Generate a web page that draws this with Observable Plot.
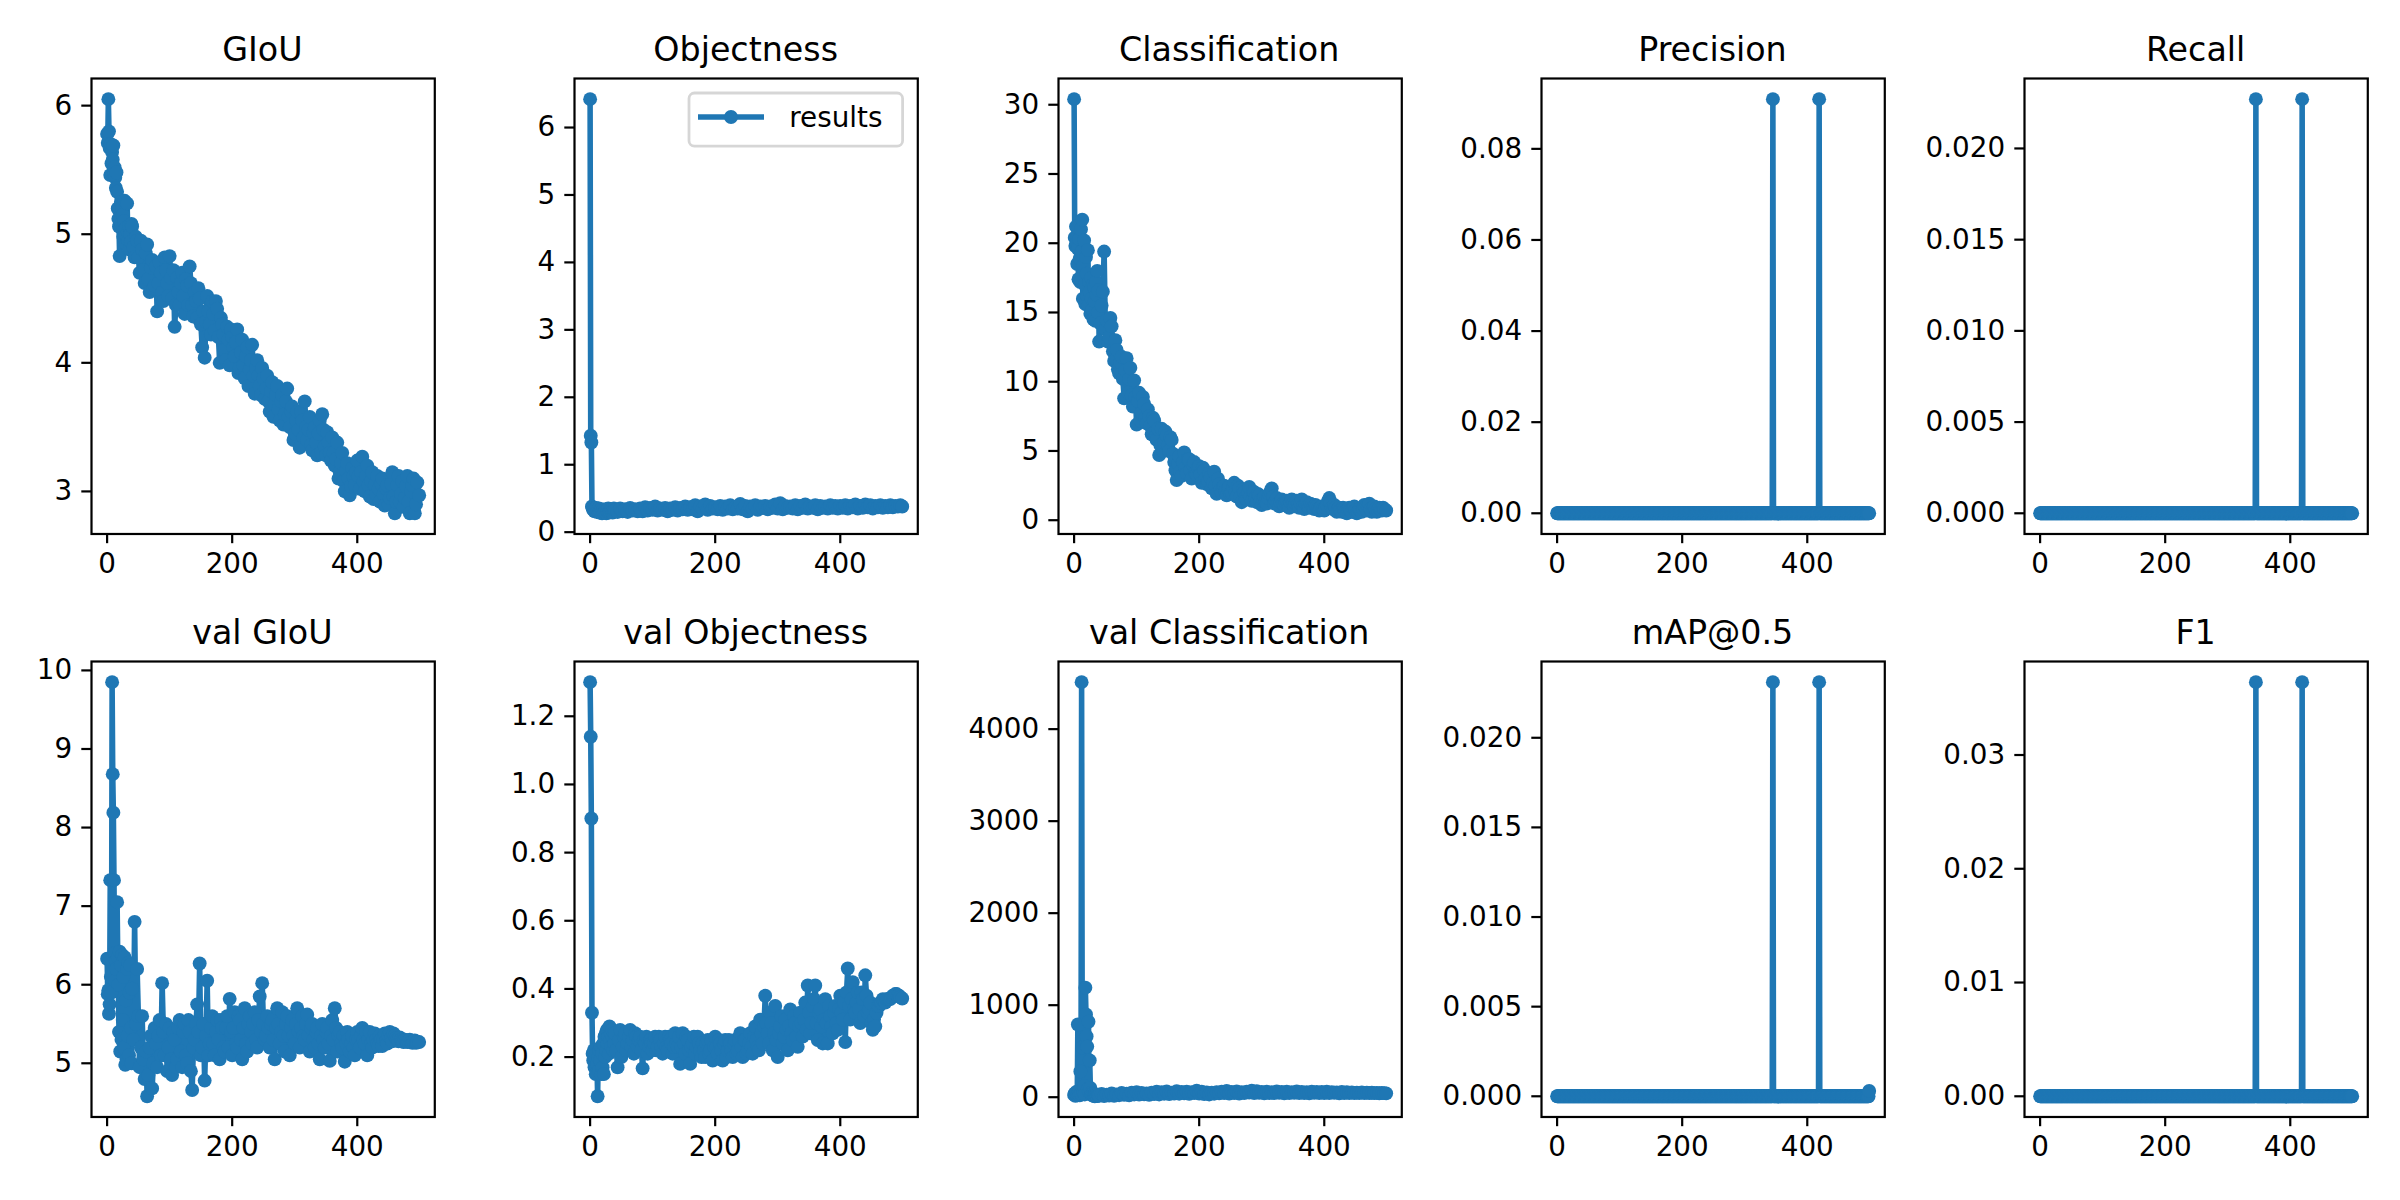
<!DOCTYPE html>
<html>
<head>
<meta charset="utf-8">
<script src="https://cdn.jsdelivr.net/npm/d3@7"></script>
<script src="https://cdn.jsdelivr.net/npm/@observablehq/plot@0.6"></script>
<style>
  html, body { margin: 0; padding: 0; background: #fff; }
  #fig { position: relative; width: 2400px; height: 1200px; overflow: hidden; background: #fff; }
  #fig > svg { position: absolute; }
</style>
</head>
<body>
<div id="fig"></div>
<script>
// Epoch grid for the noisy series: every epoch up to 39, then every 4th, then the last epoch.
const epochGrid = d3.range(0, 40).concat(d3.range(40, 500, 4), [499]);
// In-between epochs (42, 46, ... 494) used to fill the densest bands.
const midGrid = d3.range(42, 495, 4);
const allEpochs = d3.range(0, 500);

// Training losses
const giou = [
  5.78, 5.71, 6.05, 5.80, 5.67, 5.46, 5.70, 5.55, 5.64, 5.58,
  5.69, 5.47, 5.52, 5.44, 5.36, 5.48, 5.33, 5.20, 5.12, 5.06,
  4.83, 5.10, 5.25, 5.08, 5.20, 5.15, 4.98, 5.10, 5.26, 5.00,
  5.05, 4.92, 5.24, 5.02, 4.95, 5.06, 4.88, 5.00, 4.94, 5.08,
  5.06, 4.82, 4.95, 4.70, 4.88, 4.62, 4.92, 4.55, 4.80, 4.60,
  4.40, 4.78, 4.55, 4.82, 4.62, 4.83, 4.50, 4.28, 4.66, 4.45,
  4.70, 4.38, 4.60, 4.75, 4.45, 4.55, 4.35, 4.50, 4.12, 4.04,
  4.52, 4.30, 4.48, 4.25, 4.42, 4.00, 4.30, 4.10, 4.28, 3.98,
  4.20, 4.05, 4.26, 3.96, 4.18, 3.88, 4.12, 3.95, 4.14, 3.76,
  4.02, 3.82, 3.96, 3.72, 3.90, 3.62, 3.85, 3.68, 3.82, 3.55,
  3.75, 3.60, 3.80, 3.50, 3.66, 3.45, 3.62, 3.34, 3.55, 3.70,
  3.40, 3.58, 3.32, 3.50, 3.28, 3.55, 3.60, 3.35, 3.46, 3.30,
  3.42, 3.20, 3.38, 3.15, 3.30, 3.00, 3.22, 2.97, 3.18, 3.05,
  3.24, 3.02, 3.27, 3.00, 3.20, 2.96, 3.15, 3.05, 3.12, 2.92,
  3.10, 2.89, 3.05, 2.95, 3.15, 2.83, 3.05, 2.92, 3.08, 2.95,
  3.12, 2.83, 3.05, 2.83, 3.07, 2.97
];
const giouMid = [
  4.90, 4.98, 4.82, 4.95, 4.72, 4.85, 4.65, 4.74, 4.58, 4.75,
  4.62, 4.70, 4.48, 4.72, 4.52, 4.66, 4.72, 4.45, 4.55, 4.62,
  4.52, 4.65, 4.45, 4.62, 4.36, 4.48, 4.58, 4.30, 4.40, 4.32,
  4.40, 4.22, 4.38, 4.48, 4.20, 4.35, 4.22, 4.02, 4.18, 4.26,
  4.12, 4.16, 3.92, 4.08, 3.98, 4.05, 3.82, 4.02, 3.90, 3.96,
  3.90, 3.75, 3.88, 3.80, 3.70, 3.78, 3.58, 3.75, 3.64, 3.70,
  3.52, 3.70, 3.58, 3.62, 3.40, 3.55, 3.48, 3.62, 3.42, 3.50,
  3.48, 3.36, 3.46, 3.38, 3.45, 3.30, 3.48, 3.28, 3.38, 3.24,
  3.30, 3.25, 3.10, 3.22, 3.08, 3.16, 3.10, 3.04, 3.12, 3.15,
  3.12, 3.15, 3.08, 3.12, 3.05, 3.08, 2.94, 2.98, 3.02, 3.06,
  2.98, 3.02, 2.90, 3.06, 2.96, 2.92, 3.12, 2.98, 2.88, 3.04,
  2.92, 3.00, 3.10, 2.90
];

const objectness = [
  6.42, 1.43, 1.33, 0.38, 0.36, 0.33, 0.35, 0.31, 0.34, 0.32,
  0.36, 0.30, 0.33, 0.31, 0.35, 0.29, 0.32, 0.30, 0.34, 0.28,
  0.31, 0.33, 0.29, 0.32, 0.30, 0.34, 0.28, 0.33, 0.31, 0.35,
  0.29, 0.32, 0.30, 0.34, 0.31, 0.33, 0.29, 0.32, 0.35, 0.31,
  0.33, 0.30, 0.35, 0.31, 0.34, 0.30, 0.36, 0.32, 0.34, 0.31,
  0.35, 0.31, 0.37, 0.32, 0.36, 0.33, 0.38, 0.32, 0.35, 0.33,
  0.36, 0.31, 0.35, 0.33, 0.37, 0.32, 0.36, 0.34, 0.38, 0.33,
  0.37, 0.34, 0.40, 0.31, 0.38, 0.35, 0.41, 0.33, 0.39, 0.35,
  0.37, 0.34, 0.39, 0.33, 0.38, 0.35, 0.40, 0.34, 0.37, 0.35,
  0.42, 0.34, 0.39, 0.31, 0.38, 0.35, 0.40, 0.33, 0.38, 0.36,
  0.39, 0.34, 0.38, 0.36, 0.41, 0.35, 0.43, 0.34, 0.39, 0.36,
  0.38, 0.35, 0.40, 0.34, 0.39, 0.36, 0.41, 0.35, 0.38, 0.36,
  0.40, 0.34, 0.39, 0.36, 0.38, 0.35, 0.40, 0.36, 0.39, 0.35,
  0.39, 0.36, 0.40, 0.35, 0.39, 0.37, 0.41, 0.35, 0.39, 0.36,
  0.41, 0.37, 0.40, 0.35, 0.39, 0.37, 0.40, 0.36, 0.39, 0.37,
  0.40, 0.37, 0.39, 0.38, 0.40, 0.38
];

const classification = [
  30.4, 20.4, 19.8, 21.2, 20.0, 18.5, 19.6, 17.4, 20.3, 18.9,
  17.2, 21.0, 19.4, 21.7, 16.0, 18.4, 20.2, 17.0, 15.6, 19.0,
  17.8, 16.2, 19.5, 15.5, 17.2, 16.5, 14.9, 17.5, 16.0, 15.2,
  17.0, 14.5, 16.8, 15.8, 14.4, 17.2, 16.3, 18.0, 15.0, 16.6,
  12.9, 15.5, 19.4, 14.4, 13.2, 14.0, 11.5, 12.3, 10.6, 11.8,
  8.8, 11.7, 10.2, 9.0, 10.1, 6.9, 9.2, 7.8, 8.4, 7.0,
  7.5, 6.2, 7.2, 5.8, 4.7, 6.6, 5.6, 6.1, 5.0, 5.8,
  4.2, 2.9, 4.6, 3.2, 4.9, 3.4, 4.4, 3.0, 4.2, 3.3,
  3.9, 2.7, 3.6, 2.6, 3.4, 2.3, 3.5, 1.9, 2.6, 2.0,
  2.5, 1.8, 2.4, 2.0, 2.7, 1.7, 2.3, 1.3, 2.0, 1.5,
  2.4, 1.4, 2.0, 1.3, 1.8, 1.1, 1.7, 1.2, 1.9, 2.3,
  1.2, 1.6, 1.0, 1.5, 1.1, 1.4, 0.9, 1.5, 1.0, 1.4,
  0.9, 1.5, 0.8, 1.3, 0.9, 1.1, 0.8, 1.0, 0.7, 1.0,
  0.7, 1.1, 1.6, 0.9, 1.1, 0.6, 0.9, 0.6, 0.8, 0.5,
  0.9, 0.6, 1.0, 0.5, 0.8, 0.6, 1.1, 0.7, 1.2, 0.6,
  1.0, 0.6, 0.9, 0.7, 0.8, 0.7
];
const classificationMid = [
  14.2, 16.5, 13.8, 12.9, 14.6, 12.2, 13.0, 10.9, 11.4, 10.2,
  10.8, 9.2, 11.0, 8.2, 8.9, 8.6, 7.2, 8.9, 7.4, 8.0,
  6.8, 7.4, 6.0, 6.6, 5.4, 5.0, 6.4, 5.4, 6.0, 4.8,
  3.6, 4.1, 3.5, 4.2, 3.8, 4.4, 3.6, 4.0, 3.4, 3.8,
  3.3, 3.8, 3.0, 2.8, 3.1, 2.7, 2.5, 3.0, 2.2, 2.4,
  2.1, 2.3, 1.9, 2.4, 2.1, 2.5, 1.7, 2.2, 1.6, 2.0,
  1.7, 2.1, 1.6, 1.9, 1.4, 1.5, 1.3, 1.6, 2.1, 1.7,
  1.4, 1.2, 1.3, 1.2, 1.3, 1.0, 1.3, 1.2, 1.2, 1.1,
  1.2, 1.0, 1.2, 1.0, 1.2, 0.9, 1.1, 0.8, 0.9, 0.8,
  0.9, 1.4, 1.3, 0.8, 0.9, 0.8, 0.7, 0.9, 0.6, 0.8,
  0.7, 0.9, 0.7, 0.6, 0.7, 0.8, 0.9, 1.0, 0.8, 0.9,
  0.8, 0.7, 0.8, 0.9
];

// Validation losses
const valGiou = [
  6.33, 5.88, 5.93, 5.63, 5.75, 7.33, 6.10, 5.90, 9.85, 8.68,
  8.19, 7.33, 6.40, 6.05, 6.30, 6.20, 7.05, 6.35, 6.00, 5.40,
  6.42, 5.15, 6.25, 5.30, 6.38, 5.55, 6.10, 5.20, 6.35, 4.98,
  5.80, 5.05, 6.20, 5.35, 6.28, 5.10, 5.90, 6.25, 5.45, 5.00,
  5.95, 6.80, 6.20, 4.95, 5.60, 4.80, 4.58, 5.20, 4.68, 5.45,
  4.95, 5.55, 6.02, 5.10, 4.90, 5.45, 4.85, 5.30, 5.05, 5.55,
  4.95, 5.50, 5.00, 5.40, 4.66, 5.30, 5.75, 6.27, 5.20, 4.78,
  6.05, 5.25, 5.60, 5.10, 5.55, 5.05, 5.45, 5.15, 5.60, 5.82,
  5.10, 5.65, 5.20, 5.55, 5.05, 5.70, 5.15, 5.60, 5.25, 5.65,
  5.20, 5.85, 6.02, 5.30, 5.60, 5.20, 5.55, 5.05, 5.70, 5.25,
  5.65, 5.15, 5.60, 5.10, 5.55, 5.25, 5.70, 5.20, 5.60, 5.30,
  5.62, 5.15, 5.50, 5.20, 5.45, 5.05, 5.50, 5.20, 5.45, 5.03,
  5.55, 5.70, 5.15, 5.40, 5.20, 5.02, 5.40, 5.15, 5.35, 5.10,
  5.40, 5.20, 5.45, 5.25, 5.10, 5.40, 5.20, 5.38, 5.25, 5.35,
  5.22, 5.38, 5.25, 5.40, 5.28, 5.35, 5.30, 5.33, 5.28, 5.30,
  5.27, 5.30, 5.26, 5.29, 5.27, 5.27
];
const valGiouMid = [
  5.30, 5.50, 5.60, 5.20, 5.05, 5.15, 4.85, 5.35, 5.00, 5.25,
  5.35, 5.10, 5.40, 5.50, 5.20, 5.05, 5.40, 4.95, 5.45, 5.15,
  5.40, 5.10, 5.55, 4.90, 5.20, 5.50, 5.40, 5.10, 5.50, 5.35,
  5.10, 5.45, 5.25, 5.40, 5.30, 5.55, 5.20, 5.45, 5.20, 5.40,
  5.45, 5.25, 5.60, 5.30, 5.45, 5.25, 5.50, 5.40, 5.50, 5.30,
  5.55, 5.40, 5.50, 5.35, 5.45, 5.50, 5.30, 5.45, 5.50, 5.40,
  5.35, 5.50, 5.35, 5.45, 5.35, 5.50, 5.40, 5.45, 5.35, 5.50,
  5.35, 5.45, 5.30, 5.40, 5.25, 5.35, 5.30, 5.40, 5.25, 5.35,
  5.30, 5.45, 5.35, 5.25, 5.35, 5.25, 5.30, 5.25, 5.20, 5.30,
  5.30, 5.35, 5.30, 5.40, 5.30, 5.25, 5.30, 5.30, 5.22, 5.30,
  5.30, 5.28, 5.35, 5.32, 5.38, 5.32, 5.28, 5.30, 5.27, 5.29,
  5.28, 5.27, 5.28, 5.26
];

const valObjectness = [
  1.30, 1.14, 0.90, 0.33, 0.21, 0.19, 0.22, 0.17, 0.20, 0.15,
  0.21, 0.18, 0.085, 0.20, 0.16, 0.22, 0.19, 0.23, 0.15, 0.21,
  0.17, 0.24, 0.15, 0.26, 0.20, 0.27, 0.22, 0.28, 0.24, 0.26,
  0.21, 0.29, 0.25, 0.27, 0.23, 0.28, 0.26, 0.22, 0.27, 0.24,
  0.27, 0.17, 0.28, 0.23, 0.27, 0.24, 0.28, 0.25, 0.27, 0.23,
  0.26, 0.167, 0.24, 0.21, 0.25, 0.22, 0.26, 0.23, 0.25, 0.21,
  0.26, 0.22, 0.25, 0.21, 0.27, 0.23, 0.18, 0.27, 0.21, 0.25,
  0.18, 0.24, 0.21, 0.26, 0.22, 0.24, 0.20, 0.25, 0.22, 0.19,
  0.26, 0.21, 0.24, 0.19, 0.25, 0.22, 0.24, 0.20, 0.25, 0.22,
  0.27, 0.20, 0.25, 0.22, 0.27, 0.21, 0.29, 0.23, 0.31, 0.24,
  0.38, 0.27, 0.33, 0.22, 0.35, 0.20, 0.29, 0.24, 0.31, 0.22,
  0.34, 0.25, 0.30, 0.23, 0.33, 0.26, 0.36, 0.41, 0.27, 0.35,
  0.41, 0.25, 0.34, 0.24, 0.37, 0.24, 0.32, 0.27, 0.35, 0.28,
  0.38, 0.31, 0.244, 0.46, 0.31, 0.42, 0.33, 0.39, 0.30, 0.37,
  0.44, 0.33, 0.36, 0.28, 0.29, 0.35, 0.36, 0.37, 0.36, 0.37,
  0.37, 0.38, 0.385, 0.38, 0.376, 0.372
];
const valObjectnessMid = [
  0.22, 0.25, 0.20, 0.26, 0.22, 0.26, 0.23, 0.21, 0.26, 0.25,
  0.22, 0.25, 0.26, 0.23, 0.24, 0.24, 0.22, 0.26, 0.23, 0.24,
  0.23, 0.26, 0.24, 0.23, 0.24, 0.26, 0.23, 0.24, 0.26, 0.22,
  0.23, 0.26, 0.23, 0.24, 0.20, 0.22, 0.24, 0.21, 0.25, 0.23,
  0.23, 0.25, 0.22, 0.24, 0.20, 0.25, 0.22, 0.24, 0.21, 0.25,
  0.23, 0.25, 0.21, 0.24, 0.23, 0.26, 0.25, 0.22, 0.27, 0.29,
  0.30, 0.24, 0.30, 0.27, 0.25, 0.27, 0.32, 0.26, 0.28, 0.29,
  0.27, 0.32, 0.26, 0.29, 0.30, 0.31, 0.28, 0.33, 0.30, 0.37,
  0.30, 0.33, 0.29, 0.31, 0.30, 0.35, 0.29, 0.33, 0.30, 0.34,
  0.33, 0.36, 0.39, 0.35, 0.37, 0.34, 0.36, 0.34, 0.39, 0.32,
  0.38, 0.34, 0.30, 0.31, 0.33, 0.35, 0.36, 0.365, 0.37, 0.37,
  0.375, 0.38, 0.385, 0.38
];

const valClassification = [
  25, 40, 15, 30, 60, 20, 790, 30, 60, 20,
  280, 40, 4510, 540, 80, 50, 120, 30, 1190, 900,
  660, 550, 90, 820, 60, 400, 100, 45, 30, 20,
  35, 15, 25, 10, 30, 18, 22, 12, 28, 16,
  20, 35, 12, 28, 18, 40, 15, 30, 22, 45,
  25, 38, 20, 50, 30, 55, 28, 45, 32, 40,
  25, 48, 35, 60, 30, 55, 38, 62, 35, 50,
  40, 65, 38, 58, 42, 60, 36, 55, 45, 70,
  40, 60, 35, 52, 30, 48, 38, 55, 42, 60,
  45, 68, 40, 58, 44, 62, 40, 55, 45, 60,
  50, 72, 45, 65, 48, 58, 42, 60, 46, 55,
  44, 62, 48, 58, 42, 60, 46, 55, 48, 62,
  44, 58, 46, 55, 42, 60, 48, 56, 44, 58,
  46, 60, 44, 55, 48, 52, 42, 56, 46, 54,
  44, 52, 46, 50, 44, 52, 46, 50, 45, 48,
  44, 47, 43, 46, 44, 42
];

// Detection metrics: zero everywhere except at these epochs
const precisionEpochs = [345, 419];
const precisionValues = [0.0909, 0.0909];
const recallEpochs = [345, 419];
const recallValues = [0.0227, 0.0227];
const mapEpochs = [345, 419, 499];
const mapValues = [0.0231, 0.0231, 0.0003];
const f1Epochs = [345, 419];
const f1Values = [0.0364, 0.0364];

const titles = ["GIoU", "Objectness", "Classification", "Precision", "Recall",
                "val GIoU", "val Objectness", "val Classification", "mAP@0.5", "F1"];
const xTickValues = [0, 200, 400];
const yTickValues = [
  [3, 4, 5, 6],
  [0, 1, 2, 3, 4, 5, 6],
  [0, 5, 10, 15, 20, 25, 30],
  [0, 0.02, 0.04, 0.06, 0.08],
  [0, 0.005, 0.010, 0.015, 0.020],
  [5, 6, 7, 8, 9, 10],
  [0.2, 0.4, 0.6, 0.8, 1.0, 1.2],
  [0, 1000, 2000, 3000, 4000],
  [0, 0.005, 0.010, 0.015, 0.020],
  [0, 0.01, 0.02, 0.03]
];
const yTickFormats = ["d", "d", "d", ".2f", ".3f", "d", ".1f", "d", ".3f", ".2f"];
const legendLabel = "results";

function sparseSeries(epochs, values) {
  return allEpochs.map(e => {
    const k = epochs.indexOf(e);
    return k >= 0 ? values[k] : 0;
  });
}

// Join the main grid with the optional in-between epochs, in epoch order.
function rows(xs, ys, midXs, midYs) {
  const out = xs.map((x, k) => ({epoch: x, value: ys[k]}));
  if (midXs) midXs.forEach((x, k) => out.push({epoch: x, value: midYs[k]}));
  return out.sort((a, b) => a.epoch - b.epoch);
}

const panels = [
  rows(epochGrid, giou, midGrid, giouMid),
  rows(epochGrid, objectness),
  rows(epochGrid, classification, midGrid, classificationMid),
  rows(allEpochs, sparseSeries(precisionEpochs, precisionValues)),
  rows(allEpochs, sparseSeries(recallEpochs, recallValues)),
  rows(epochGrid, valGiou, midGrid, valGiouMid),
  rows(epochGrid, valObjectness, midGrid, valObjectnessMid),
  rows(epochGrid, valClassification),
  rows(allEpochs, sparseSeries(mapEpochs, mapValues)),
  rows(allEpochs, sparseSeries(f1Epochs, f1Values))
];

// Figure geometry (pixels)
const BLUE = "#1f77b4";
const axLeft = [90.7, 574, 1057.5, 1540.8, 2024];
const axTop = [77.5, 661];
const axW = 343.3, axH = 455.5;
const mL = 130, mR = 16, mT = 12, mB = 64;
const fontFamily = "'DejaVu Sans', 'Liberation Sans', sans-serif";

const fig = document.getElementById("fig");

panels.forEach((data, i) => {
  const row = Math.floor(i / 5), col = i % 5;
  const [lo, hi] = d3.extent(data, d => d.value);
  const pad = 0.05 * (hi - lo);
  const [xMin, xMax] = d3.extent(data, d => d.epoch);
  const xPad = 0.05 * (xMax - xMin);

  const chart = Plot.plot({
    width: axW + mL + mR,
    height: axH + mT + mB,
    marginLeft: mL, marginRight: mR, marginTop: mT, marginBottom: mB,
    style: {fontFamily, fontSize: "27.8px", color: "#000", background: "transparent", overflow: "visible"},
    x: {domain: [xMin - xPad, xMax + xPad], label: null},
    y: {domain: [lo - pad, hi + pad], label: null},
    marks: [
      Plot.line(data, {x: "epoch", y: "value", stroke: BLUE, strokeWidth: 5.56, strokeLinejoin: "round"}),
      Plot.dot(data, {x: "epoch", y: "value", r: 6.95, fill: BLUE}),
      Plot.axisX({ticks: xTickValues, tickFormat: d3.format("d"), tickSize: 9.7, tickPadding: 9.7, strokeWidth: 2.2, label: null}),
      Plot.axisY({ticks: yTickValues[i], tickFormat: d3.format(yTickFormats[i]), tickSize: 9.7, tickPadding: 9.7, strokeWidth: 2.2, label: null}),
      Plot.frame({stroke: "#000", strokeWidth: 2.2})
    ]
  });
  chart.style.left = (axLeft[col] - mL) + "px";
  chart.style.top = (axTop[row] - mT) + "px";
  fig.appendChild(chart);
});

// Panel titles and the legend of the Objectness panel
const overlay = d3.select(fig).append("svg")
  .attr("width", 2400).attr("height", 1200)
  .style("left", "0px").style("top", "0px")
  .style("pointer-events", "none")
  .style("font-family", fontFamily);

overlay.selectAll("text.title")
  .data(titles)
  .join("text")
  .attr("class", "title")
  .attr("x", (d, i) => axLeft[i % 5] + axW / 2)
  .attr("y", (d, i) => axTop[Math.floor(i / 5)] - 16.7)
  .attr("text-anchor", "middle")
  .attr("font-size", 33.3)
  .attr("fill", "#000")
  .text(d => d);

const legend = overlay.append("g");
legend.append("rect")
  .attr("x", 689).attr("y", 93).attr("width", 213.6).attr("height", 53.2)
  .attr("rx", 5.5)
  .attr("fill", "#fff").attr("fill-opacity", 0.8)
  .attr("stroke", "#cccccc").attr("stroke-opacity", 0.8).attr("stroke-width", 2.78);
legend.append("line")
  .attr("x1", 698).attr("x2", 764).attr("y1", 117).attr("y2", 117)
  .attr("stroke", BLUE).attr("stroke-width", 5.56);
legend.append("circle")
  .attr("cx", 731).attr("cy", 117).attr("r", 6.95).attr("fill", BLUE);
legend.append("text")
  .attr("x", 789.3).attr("y", 127.4)
  .attr("font-size", 27.8).attr("fill", "#000")
  .text(legendLabel);
</script>
</body>
</html>
